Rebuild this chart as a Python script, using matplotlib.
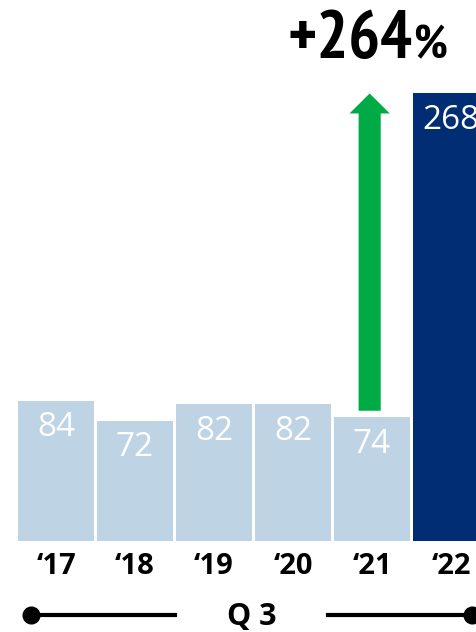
import matplotlib
matplotlib.use("Agg")
import matplotlib.pyplot as plt
from matplotlib.lines import Line2D
from matplotlib import font_manager as fm

categories = ["\u201817", "\u201818", "\u201819", "\u201820", "\u201821", "\u201822"]
values = [84, 72, 82, 82, 74, 268]
change_label = "+264"
change_suffix = "%"
period_label = "Q 3"

light = "#BED3E4"
dark = "#002D74"
green = "#00AB45"

# find a condensed bold face for the headline
def find_condensed():
    best = None
    for f in fm.fontManager.ttflist:
        name = (f.name + " " + f.fname).lower()
        w = f.weight if isinstance(f.weight, int) else (700 if "bold" in str(f.weight) else 400)
        cond = ("narrow" in name or "condensed" in name or "cond" in str(f.stretch))
        if cond and w >= 700 and "oblique" not in name and "italic" not in name:
            score = 2 if "narrow" in name else 1
            if best is None or score > best[0]:
                best = (score, f.fname)
    return best[1] if best else None

cf = find_condensed()
if cf:
    head_props = fm.FontProperties(fname=cf)
else:
    head_props = fm.FontProperties(family="DejaVu Sans", weight="bold")

W, H = 476, 632
fig = plt.figure(figsize=(W / 100, H / 100), dpi=100)

base_px = 541
ppu = 1.67  # pixels per unit
ax = fig.add_axes([0, (H - base_px) / H, 1, base_px / H])
ax.set_ylim(0, base_px / ppu)
spacing = 79.0
x0 = -0.485 - 17.7 / spacing
ax.set_xlim(x0, x0 + W / spacing)

xs = list(range(len(values)))
colors = [light] * (len(values) - 1) + [dark]
ax.bar(xs, values, width=0.97, color=colors, linewidth=0)

for x, v in zip(xs, values):
    ax.annotate(str(v), xy=(x, v), xytext=(0, -19.5), textcoords="offset points",
                ha="center", va="center", color="white", fontsize=24,
                family="Open Sans")

ax.set_xticks(xs)
ax.set_xticklabels(categories, fontsize=21, fontweight="bold", family="Open Sans")
ax.tick_params(axis="x", length=0, pad=8)
ax.set_yticks([])
for s in ax.spines.values():
    s.set_visible(False)

# growth arrow from '21 to '22
ax.arrow(xs[4] - 0.03, values[4] + 4, 0, values[5] - values[4] - 4,
         width=0.28, head_width=0.51, head_length=12,
         length_includes_head=True, color=green, linewidth=0)

def fx(px):
    return px / W

def fy(py):
    return 1 - py / H

hp1 = head_props.copy(); hp1.set_size(48)
hp2 = head_props.copy(); hp2.set_size(34)
fig.text(fx(412), fy(58), change_label, ha="right", va="baseline",
         fontproperties=hp1, color="black")
fig.text(fx(413), fy(58), change_suffix, ha="left", va="baseline",
         fontproperties=hp2, color="black")

# bottom period line
ly = fy(615)
fig.add_artist(Line2D([fx(31), fx(175)], [ly, ly], color="black", lw=3,
                      transform=fig.transFigure))
fig.add_artist(Line2D([fx(328), fx(472)], [ly, ly], color="black", lw=3,
                      transform=fig.transFigure))
fig.add_artist(Line2D([fx(31), fx(472)], [ly, ly], color="black", lw=0,
                      marker="o", markersize=12, transform=fig.transFigure))
fig.text(fx(252), fy(625), period_label, ha="center", va="baseline",
         fontsize=22, fontweight="bold", family="Open Sans", color="black")

fig.savefig("out.png", dpi=100)
